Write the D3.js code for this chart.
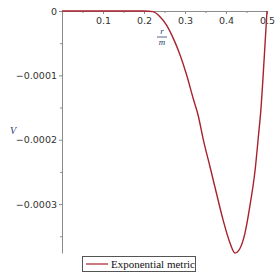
<!DOCTYPE html>
<html>
<head>
<meta charset="utf-8">
<script src="https://cdn.jsdelivr.net/npm/d3@7"></script>
<style>
body { margin: 0; background: #fff; }
svg { display: block; }
</style>
</head>
<body>
<script>
// r/m values and potential V
var rm = [0, 0.1, 0.2, 0.222, 0.239, 0.255, 0.2715, 0.288, 0.304, 0.32, 0.332, 0.345, 0.361, 0.377, 0.393, 0.41, 0.422, 0.434, 0.446, 0.458, 0.471, 0.479, 0.485, 0.493, 0.5];
var vals = [0, 0, 0, -0.000001, -0.0000089, -0.0000218, -0.0000425, -0.0000684, -0.0000995, -0.000136, -0.000162, -0.000201, -0.000242, -0.000284, -0.000325, -0.000361, -0.000376, -0.000369, -0.000346, -0.000304, -0.000247, -0.000195, -0.000154, -0.000075, 0];
var xTicks = [0.1, 0.2, 0.3, 0.4, 0.5];
var yTicks = [0, -0.0001, -0.0002, -0.0003];
var legendLabel = "Exponential metric";

var w = 278, h = 278;

var svg = d3.select("body").append("svg")
    .attr("width", w)
    .attr("height", h);

var x = d3.scaleLinear().domain([0, 0.5]).range([62, 267]);
var y = d3.scaleLinear().domain([-0.000376, 0]).range([253, 11]);

var axisColor = "#8c8c8c";

// y axis (left side, ticks pointing left)
var yAxis = svg.append("g").attr("transform", "translate(62,0)")
    .call(d3.axisLeft(y).tickValues(yTicks).tickSize(3).tickSizeOuter(0)
        .tickFormat(function(d) { return d === 0 ? "0" : "\u2212" + Math.abs(d).toFixed(4); }));
svg.append("g").attr("transform", "translate(62,0)")
    .call(d3.axisLeft(y).tickValues([-0.00005, -0.00015, -0.00025, -0.00035]).tickSize(2).tickFormat(""))
    .select(".domain").remove();

// x axis along V = 0, ticks pointing down
var xAxis = svg.append("g").attr("transform", "translate(0," + y(0) + ")")
    .call(d3.axisBottom(x).tickValues(xTicks).tickSize(3).tickSizeOuter(0).tickFormat(d3.format(".1f")));
svg.append("g").attr("transform", "translate(0," + y(0) + ")")
    .call(d3.axisBottom(x).tickValues([0.05, 0.15, 0.25, 0.35, 0.45]).tickSize(2).tickFormat(""))
    .select(".domain").remove();

svg.selectAll(".domain, .tick line").attr("stroke", axisColor);
svg.selectAll(".tick text")
    .attr("fill", "#333")
    .attr("font-family", "'DejaVu Sans', sans-serif")
    .attr("font-size", "9.5px");
yAxis.selectAll(".tick text").attr("x", -5);
xAxis.selectAll(".tick text").attr("y", 6);

// the curve
var line = d3.line()
    .x(function(d, i) { return x(rm[i]); })
    .y(function(d) { return y(d); })
    .curve(d3.curveMonotoneX);

svg.append("path")
    .datum(vals)
    .attr("d", line)
    .attr("fill", "none")
    .attr("stroke", "#a8222e")
    .attr("stroke-width", 1.4);

// axis titles
var frac = svg.append("g").attr("transform", "translate(162,0)")
    .attr("font-family", "'Liberation Serif', serif")
    .attr("font-style", "italic")
    .attr("font-size", "9px")
    .attr("fill", "#283c6e")
    .attr("text-anchor", "middle");
frac.append("text").attr("x", 0).attr("y", 34).text("r");
frac.append("line").attr("x1", -5).attr("x2", 5).attr("y1", 37).attr("y2", 37)
    .attr("stroke", "#283c6e").attr("stroke-width", 0.8);
frac.append("text").attr("x", 0).attr("y", 45).text("m");

svg.append("text")
    .attr("x", 10).attr("y", 134)
    .attr("font-family", "'Liberation Serif', serif")
    .attr("font-style", "italic")
    .attr("font-size", "10px")
    .attr("fill", "#283c6e")
    .text("V");

// legend
var lg = svg.append("g");
lg.append("rect").attr("x", 82.5).attr("y", 256.5).attr("width", 113).attr("height", 15)
    .attr("fill", "#fff").attr("stroke", "#555").attr("stroke-width", 1);
lg.append("line").attr("x1", 86).attr("x2", 108).attr("y1", 264).attr("y2", 264)
    .attr("stroke", "#a8222e").attr("stroke-width", 1.2);
lg.append("text").attr("x", 111).attr("y", 268)
    .attr("font-family", "'Liberation Serif', serif")
    .attr("font-size", "11px")
    .attr("fill", "#111")
    .text(legendLabel);
</script>
</body>
</html>
